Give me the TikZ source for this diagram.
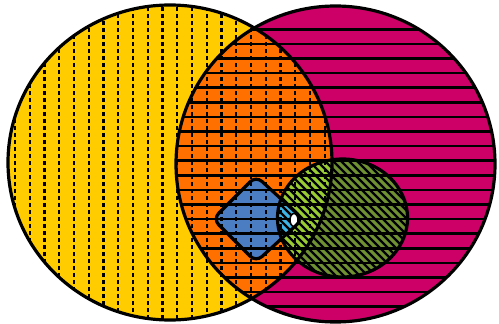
\documentclass[tikz,border=0pt]{standalone}
\definecolor{cyel}{RGB}{255,204,0}
\definecolor{cmag}{RGB}{204,0,102}
\definecolor{cora}{RGB}{255,112,0}
\definecolor{cgrnL}{RGB}{153,204,51}
\definecolor{cgrnD}{RGB}{112,145,50}
\definecolor{cblu}{RGB}{75,125,195}
\definecolor{ccya}{RGB}{60,180,230}
\begin{document}
\begin{tikzpicture}[x=1pt,y=-1pt,
  outline/.style={draw=black,line width=3.2pt},
  vhatch/.style={black,line width=2.2pt,dash pattern=on 4pt off 3pt},
  hhatch/.style={black,line width=2.6pt},
  dhatch/.style={black,line width=2.3pt}]
\useasboundingbox (0,0) rectangle (499,324);
\def\pY{(170,162.5) ellipse [x radius=162, y radius=157.5]}
\def\pM{(335.5,164) ellipse [x radius=159.5, y radius=158]}
\def\pG{(342.5,218) ellipse [x radius=65, y radius=59]}
\def\pD{[rounded corners=8pt] (213,219) -- (256,176) -- (303,219) -- (256,262) -- cycle}
% base fills
\fill[cyel] \pY;
\fill[cmag] \pM;
\begin{scope}\clip \pY; \fill[cora] \pM; \end{scope}
\fill[cgrnD] \pG;
\begin{scope}\clip \pY; \fill[cgrnL] \pG; \end{scope}
\fill[cblu] \pD;
\begin{scope}\clip \pG; \fill[ccya] \pD; \end{scope}
% hatching
\begin{scope}\clip \pY;
  \foreach \k in {0,...,22} \draw[vhatch] ({0.25+14.75*\k},0) -- ({0.25+14.75*\k},324);
\end{scope}
\begin{scope}\clip \pM;
  \foreach \k in {0,...,20} \draw[hhatch] (0,{29.3+14.6*\k}) -- (499,{29.3+14.6*\k});
\end{scope}
\begin{scope}\clip \pG;
  \foreach \k in {0,...,40} \draw[dhatch] ({-20+8*\k+150},150) -- ({-20+8*\k+290},290);
\end{scope}
% small white spot
\filldraw[fill=white,draw=black,line width=1.5pt] (294,220) ellipse [x radius=4, y radius=6.5];
% outlines
\draw[outline] \pY;
\draw[outline] \pM;
\draw[outline] \pG;
\draw[outline] \pD;
\end{tikzpicture}
\end{document}
